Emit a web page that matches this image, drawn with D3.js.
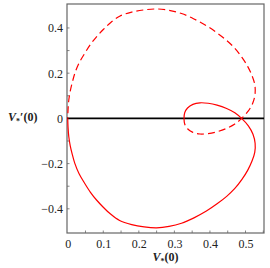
<!DOCTYPE html>
<html>
<head>
<meta charset="utf-8">
<script src="https://cdn.jsdelivr.net/npm/d3@7"></script>
<style>
  html, body { margin: 0; padding: 0; background: #fff; }
  svg { display: block; }
</style>
</head>
<body>
<div id="chart"></div>
<script>
// Solid branch: from origin down round the bottom, up through the crossing into the small loop
const solidX = [0, 0.001, 0.003, 0.007, 0.013, 0.02, 0.032, 0.048, 0.064, 0.081, 0.1, 0.118, 0.146, 0.18, 0.215, 0.25, 0.285, 0.32, 0.355, 0.39, 0.42, 0.447, 0.47, 0.49, 0.506, 0.518, 0.526, 0.527, 0.521, 0.508, 0.489, 0.47, 0.447, 0.42, 0.395, 0.372, 0.352, 0.337, 0.329, 0.327];
const solidY = [0, -0.04, -0.08, -0.12, -0.16, -0.199, -0.245, -0.288, -0.327, -0.361, -0.393, -0.42, -0.452, -0.47, -0.48, -0.484, -0.478, -0.464, -0.44, -0.41, -0.378, -0.345, -0.31, -0.27, -0.23, -0.19, -0.15, -0.11, -0.07, -0.033, 0, 0.025, 0.044, 0.059, 0.067, 0.069, 0.062, 0.046, 0.025, 0];

// Dashed branch: from the loop's left end back through the crossing, over the top to the origin
const dashX = [0.327, 0.329, 0.337, 0.352, 0.372, 0.395, 0.42, 0.447, 0.47, 0.489, 0.508, 0.521, 0.527, 0.526, 0.518, 0.506, 0.49, 0.47, 0.447, 0.42, 0.39, 0.355, 0.32, 0.285, 0.25, 0.215, 0.18, 0.146, 0.118, 0.1, 0.081, 0.064, 0.048, 0.032, 0.02, 0.013, 0.007, 0.003, 0.001, 0];
const dashY = [0, -0.025, -0.046, -0.062, -0.069, -0.067, -0.059, -0.044, -0.025, 0, 0.033, 0.07, 0.11, 0.15, 0.19, 0.23, 0.27, 0.31, 0.345, 0.378, 0.41, 0.44, 0.464, 0.478, 0.484, 0.48, 0.47, 0.452, 0.42, 0.393, 0.361, 0.327, 0.288, 0.245, 0.199, 0.16, 0.12, 0.08, 0.04, 0];

const xTicks = [0, 0.1, 0.2, 0.3, 0.4, 0.5];
const yTicks = [-0.4, -0.2, 0, 0.2, 0.4];
const xMinor = [0.05, 0.1, 0.15, 0.2, 0.25, 0.3, 0.35, 0.4, 0.45, 0.5, 0.55];
const yMinor = [-0.4, -0.3, -0.2, -0.1, 0.1, 0.2, 0.3, 0.4];

const width = 270, height = 268;
const plotL = 67, plotR = 264, plotT = 4, plotB = 233;
const serif = '"Liberation Serif", "Times New Roman", serif';

const x = d3.scaleLinear().domain([-0.002, 0.552]).range([plotL, plotR]);
const y = d3.scaleLinear().domain([0.506, -0.507]).range([plotT, plotB]);

const svg = d3.select('#chart').append('svg')
  .attr('width', width)
  .attr('height', height);

// frame
svg.append('rect')
  .attr('x', plotL).attr('y', plotT)
  .attr('width', plotR - plotL).attr('height', plotB - plotT)
  .attr('fill', 'none')
  .attr('stroke', '#666')
  .attr('stroke-width', 1.2);

// small inward ticks
svg.selectAll('.xminor').data(xMinor).enter().append('line')
  .attr('x1', d => x(d)).attr('x2', d => x(d))
  .attr('y1', plotB).attr('y2', plotB - 2.5)
  .attr('stroke', '#666').attr('stroke-width', 0.8);
svg.selectAll('.yminor').data(yMinor).enter().append('line')
  .attr('x1', plotL).attr('x2', plotL + 2.5)
  .attr('y1', d => y(d)).attr('y2', d => y(d))
  .attr('stroke', '#666').attr('stroke-width', 0.8);

// tick labels
const xAxis = d3.axisBottom(x).tickValues(xTicks).tickSize(0).tickPadding(6)
  .tickFormat(d => d === 0 ? '0' : d3.format('.1f')(d));
svg.append('g')
  .attr('transform', 'translate(0,' + plotB + ')')
  .call(xAxis)
  .call(g => g.select('.domain').remove())
  .selectAll('text')
  .attr('font-family', serif).attr('font-size', 12).attr('fill', '#222');

const yAxis = d3.axisLeft(y).tickValues(yTicks).tickSize(0).tickPadding(4)
  .tickFormat(d => d === 0 ? '0' : d3.format('.1f')(d).replace('-', '\u2212'));
svg.append('g')
  .attr('transform', 'translate(' + plotL + ',0)')
  .call(yAxis)
  .call(g => g.select('.domain').remove())
  .selectAll('text')
  .attr('font-family', serif).attr('font-size', 12).attr('fill', '#222');

// zero line
svg.append('line')
  .attr('x1', plotL).attr('x2', plotR)
  .attr('y1', y(0)).attr('y2', y(0))
  .attr('stroke', '#000').attr('stroke-width', 1.8);

const line = d3.line()
  .x(d => x(d[0]))
  .y(d => y(d[1]))
  .curve(d3.curveCatmullRom.alpha(0.5));

svg.append('path')
  .datum(solidX.map((v, i) => [v, solidY[i]]))
  .attr('d', line)
  .attr('fill', 'none')
  .attr('stroke', '#f00')
  .attr('stroke-width', 1.2);

svg.append('path')
  .datum(dashX.map((v, i) => [v, dashY[i]]))
  .attr('d', line)
  .attr('fill', 'none')
  .attr('stroke', '#f00')
  .attr('stroke-width', 1.2)
  .attr('stroke-dasharray', '7,4');

// axis titles
const yTitle = svg.append('text')
  .attr('x', 8).attr('y', y(0) + 3)
  .attr('font-family', serif).attr('font-size', 12)
  .attr('font-weight', 'bold').attr('fill', '#222');
yTitle.append('tspan').attr('font-style', 'italic').text('V');
yTitle.append('tspan').attr('font-size', 8).attr('dy', 3).text('*');
yTitle.append('tspan').attr('dy', -3).text('\u2032(0)');

const xTitle = svg.append('text')
  .attr('x', (plotL + plotR) / 2).attr('y', 261)
  .attr('text-anchor', 'middle')
  .attr('font-family', serif).attr('font-size', 12)
  .attr('font-weight', 'bold').attr('fill', '#222');
xTitle.append('tspan').attr('font-style', 'italic').text('V');
xTitle.append('tspan').attr('font-size', 8).attr('dy', 3).text('*');
xTitle.append('tspan').attr('dy', -3).text('(0)');
</script>
</body>
</html>
